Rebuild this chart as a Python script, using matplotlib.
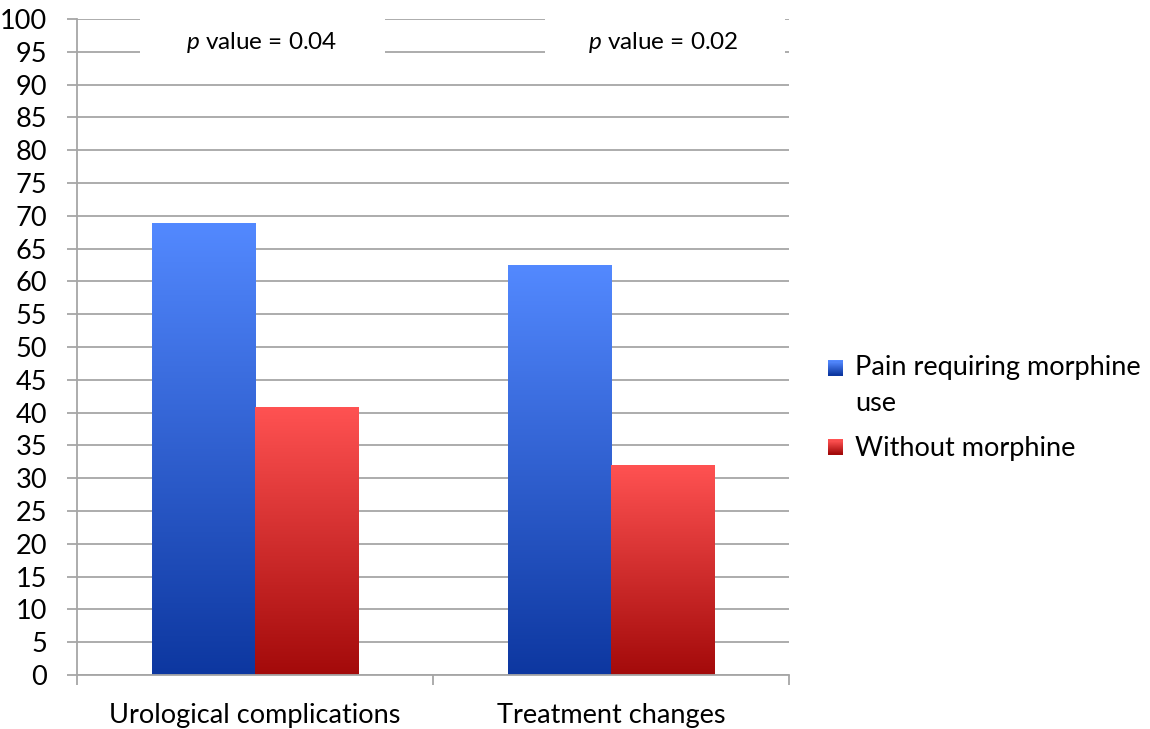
import matplotlib
matplotlib.use("Agg")
import matplotlib.pyplot as plt
import numpy as np
from matplotlib.patches import Rectangle
from matplotlib.legend_handler import HandlerBase
from matplotlib.colors import LinearSegmentedColormap

plt.rcParams['font.family'] = ['Lato', 'DejaVu Sans']
plt.rcParams['mathtext.fontset'] = 'custom'
plt.rcParams['mathtext.it'] = 'Lato:italic'
plt.rcParams['mathtext.rm'] = 'Lato'

# data
categories = ["Urological complications", "Treatment changes"]
series_names = ["Pain requiring morphine\nuse", "Without morphine"]
morphine = [68.8, 62.4]
without = [40.7, 31.9]
p_labels = ["0.04", "0.02"]

# gradient colours (bottom, top)
blue_grad = ("#0d37a0", "#5389ff")
red_grad = ("#a30a0a", "#ff5252")
grid_col = "#a6a6a6"
fs = 19.5

fig = plt.figure(figsize=(11.5, 7.29), dpi=100)
ax = fig.add_axes([0.067, 0.074, 0.619, 0.900])

x = np.arange(len(categories))
w = 0.29


def gradient_bars(bars, cols):
    cmap = LinearSegmentedColormap.from_list("g", list(cols))
    grad = np.linspace(0, 1, 256).reshape(-1, 1)
    for b in bars:
        b.set_facecolor("none")
        b.set_edgecolor("none")
        x0, y0 = b.get_x(), b.get_y()
        ax.imshow(grad, cmap=cmap, origin="lower", aspect="auto",
                  extent=[x0, x0 + b.get_width(), y0, y0 + b.get_height()],
                  zorder=2)


b1 = ax.bar(x - w / 2, morphine, w, zorder=2)
b2 = ax.bar(x + w / 2, without, w, zorder=2)
gradient_bars(b1, blue_grad)
gradient_bars(b2, red_grad)

ax.set_xlim(-0.5, 1.5)
ax.set_ylim(0, 100)
ax.set_yticks(np.arange(0, 101, 5))
ax.yaxis.grid(True, color=grid_col, lw=1.3, zorder=0)
ax.set_axisbelow(True)

# gridlines reach out to the left like Excel ticks
ax.tick_params(axis="y", length=7.5, width=1.3, color=grid_col, labelsize=fs, pad=14)
ax.set_xticks(x)
ax.set_xticklabels(categories, fontsize=fs)
ax.tick_params(axis="x", length=0, pad=20)
ax.set_xticks([-0.5, 0.5, 1.5], minor=True)
ax.tick_params(axis="x", which="minor", length=7.5, width=1.3, color=grid_col)

for s in ["top", "right"]:
    ax.spines[s].set_visible(False)
ax.spines["left"].set_color(grid_col)
ax.spines["left"].set_linewidth(1.3)
ax.spines["bottom"].set_color(grid_col)
ax.spines["bottom"].set_linewidth(1.3)

# p value labels with white boxes over the top gridlines
box_x = [(-0.323, 0.365), (0.815, 1.489)]
text_x = [0.02, 1.146]
for (bx0, bx1), tx, p in zip(box_x, text_x, p_labels):
    ax.add_patch(Rectangle((bx0, 91.2), bx1 - bx0, 10, facecolor="white",
                           edgecolor="none", zorder=3, clip_on=False))
    ax.text(tx, 96.4, "$p$ value = " + p, ha="center", va="center",
            fontsize=17.5, zorder=4)


class GradHandler(HandlerBase):
    def __init__(self, cols, shift=0.0):
        super().__init__()
        self.cols = cols
        self.shift = shift

    def create_artists(self, legend, orig, xd, yd, width, height, fontsize, trans):
        cmap = LinearSegmentedColormap.from_list("g", list(self.cols))
        n = 14
        arts = []
        side = 0.56 * fontsize
        y0 = yd + height / 2 - side / 2 + self.shift * fontsize
        for i in range(n):
            r = Rectangle((xd, y0 + side * i / n), side, side / n + 0.2,
                          facecolor=cmap(i / (n - 1)), edgecolor="none",
                          transform=trans)
            arts.append(r)
        return arts


h1 = Rectangle((0, 0), 1, 1)
h2 = Rectangle((0, 0), 1, 1)
leg = fig.legend([h1, h2], series_names, loc="center left",
                 bbox_to_anchor=(0.72, 0.44), frameon=False, fontsize=fs,
                 handler_map={h1: GradHandler(blue_grad, 0.67),
                              h2: GradHandler(red_grad)},
                 handlelength=0.56, handletextpad=0.45, labelspacing=0.75,
                 borderpad=0, borderaxespad=0)
for t in leg.get_texts():
    t.set_linespacing(1.55)

fig.savefig("out.png", dpi=100)
